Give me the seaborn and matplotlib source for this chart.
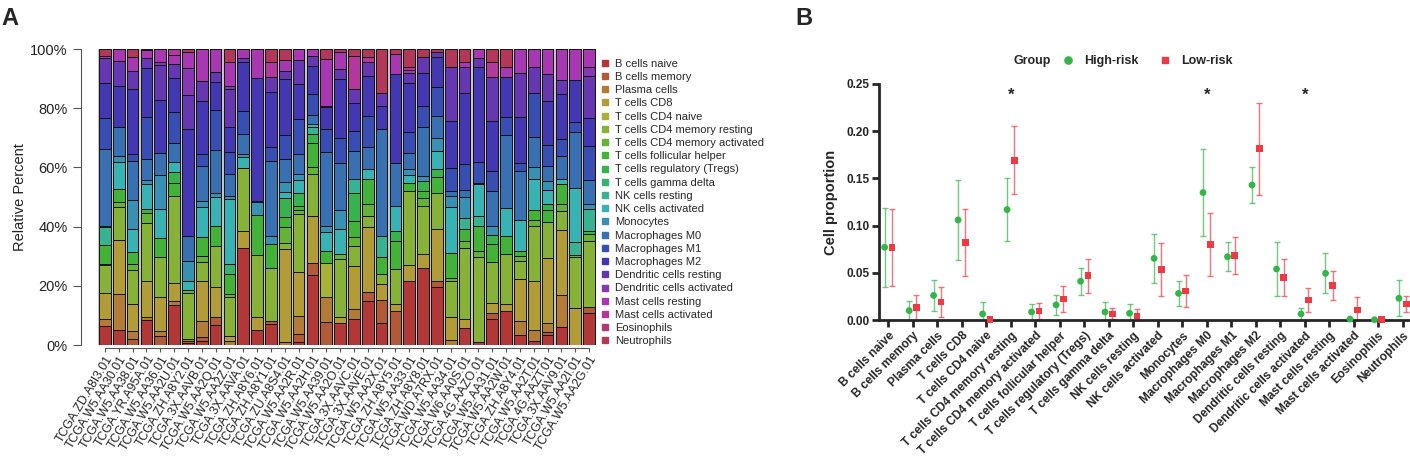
import numpy as np
import pandas as pd
import matplotlib
matplotlib.use("Agg")
import matplotlib.pyplot as plt
import seaborn as sns
from matplotlib.lines import Line2D

# ---------------- data ----------------
samples = ["TCGA.ZD.A8I3.01", "TCGA.W5.AA30.01", "TCGA.W5.AA38.01", "TCGA.YR.A95A.01",
           "TCGA.W5.AA36.01", "TCGA.W5.AA2U.01", "TCGA.ZH.A8Y2.01", "TCGA.3X.AAVB.01",
           "TCGA.W5.AA2Q.01", "TCGA.W5.AA2Z.01", "TCGA.3X.AAVA.01", "TCGA.ZH.A8Y6.01",
           "TCGA.ZH.A8Y1.01", "TCGA.ZU.A8S4.01", "TCGA.W5.AA2R.01", "TCGA.W5.AA2H.01",
           "TCGA.W5.AA39.01", "TCGA.W5.AA2O.01", "TCGA.3X.AAVC.01", "TCGA.3X.AAVE.01",
           "TCGA.W5.AA2X.01", "TCGA.ZH.A8Y5.01", "TCGA.W5.AA33.01", "TCGA.ZH.A8Y8.01",
           "TCGA.WD.A7RX.01", "TCGA.W5.AA34.01", "TCGA.W6.AA0S.01", "TCGA.4G.AAZO.01",
           "TCGA.W5.AA31.01", "TCGA.W5.AA2W.01", "TCGA.ZH.A8Y4.01", "TCGA.W5.AA2T.01",
           "TCGA.4G.AAZT.01", "TCGA.3X.AAV9.01", "TCGA.W5.AA2I.01", "TCGA.W5.AA2G.01"]

cell_types = ["B cells naive", "B cells memory", "Plasma cells", "T cells CD8",
              "T cells CD4 naive", "T cells CD4 memory resting",
              "T cells CD4 memory activated", "T cells follicular helper",
              "T cells regulatory (Tregs)", "T cells gamma delta", "NK cells resting",
              "NK cells activated", "Monocytes", "Macrophages M0", "Macrophages M1",
              "Macrophages M2", "Dendritic cells resting", "Dendritic cells activated",
              "Mast cells resting", "Mast cells activated", "Eosinophils", "Neutrophils"]

# percent of each cell type per sample (one row per sample, columns follow cell_types)
fractions = [
    [6.4, 0, 2.3, 8.9, 0, 9.4, 0.5, 6.5, 0, 0, 6, 0.5, 0, 26, 10.5, 12, 8.5, 0, 0.5, 0, 0, 2.5],
    [5, 0, 12.4, 18, 0, 11.2, 1.7, 4.5, 0, 0, 0, 9, 2.2, 9.5, 0, 14.1, 8.4, 0, 3.9, 0, 0, 0.1],
    [0, 2, 2.8, 9.2, 0, 11.3, 2, 4, 0, 0, 0, 7.9, 9.8, 13.2, 2.2, 22.1, 6.2, 0, 4.7, 0, 0, 2.6],
    [8.3, 0, 1, 12.3, 0, 19.5, 3.6, 1.2, 0, 0, 0, 8.5, 1.3, 7.3, 14, 16.7, 3.2, 0, 2.6, 0, 0, 0.5],
    [0, 3.2, 1.4, 11.5, 0, 13.5, 0, 6.5, 0, 0, 0, 10, 11.5, 7.4, 0, 17.8, 11.7, 1, 4.5, 0, 0, 0],
    [13.4, 0, 1.5, 6.2, 0, 29.2, 0, 4.5, 3.5, 0, 0, 3.5, 0, 6.6, 10.2, 11.5, 4.7, 0, 3.2, 2, 0, 0],
    [0.8, 0.5, 0.8, 0, 0, 15.5, 0.9, 0, 0, 0, 0, 3.1, 6.9, 8.2, 0, 36.3, 11.5, 9, 5.4, 0, 0, 1.1],
    [1.5, 1.1, 5.6, 13.3, 0, 6.4, 2.3, 6.4, 0, 0, 0, 9.9, 2.3, 11.8, 3.9, 18, 6.8, 0, 10.7, 0, 0, 0],
    [6.6, 3, 0, 10, 0, 14, 0, 6.5, 0, 0, 0, 10, 1.3, 14.5, 13.5, 9.5, 3.3, 0, 7.8, 0, 0, 0],
    [0, 0, 1.5, 1.7, 0, 12.9, 1.1, 6.8, 0, 3.4, 0, 21.9, 1.1, 7.4, 7.3, 8.4, 13, 1.1, 7.9, 0, 0, 4.5],
    [32.7, 0, 0, 5.8, 0, 21.3, 0, 0, 0, 0, 0, 3.6, 1, 7, 7.8, 16.5, 1.2, 0, 3.1, 0, 0, 0],
    [5, 0, 0, 4.5, 0, 21, 0, 13.5, 0, 0, 0, 0, 4.2, 0.5, 0, 41.5, 0, 0, 9.8, 0, 0, 0],
    [7, 1, 0, 0, 0, 18, 0, 8, 0, 0, 0, 0, 2.7, 25.3, 5, 18.6, 5.1, 0, 0, 5, 0, 4.3],
    [0, 0, 0.9, 31.5, 0, 1.9, 5.5, 3.6, 6.3, 0, 0, 1.9, 3.4, 7.8, 8.3, 18.8, 2.8, 0, 3.6, 0, 0, 3.7],
    [0.9, 2.8, 6.2, 14.6, 0, 19.8, 1.4, 1.4, 4.1, 0, 0, 4.5, 2.1, 6.7, 11.9, 11.8, 8.1, 0, 3.7, 0, 0, 0],
    [23.6, 4, 0, 16.1, 0, 14.1, 2.4, 7.9, 3.2, 0, 2.3, 1.1, 0, 3, 7.2, 9.4, 3.4, 0, 2.3, 0, 0, 0],
    [0, 7.7, 8.4, 0, 11.5, 0, 0, 4.3, 0, 0, 0, 6.2, 2.2, 24.8, 7.9, 7.3, 0.6, 0, 15.8, 0, 0, 3.3],
    [7.3, 0, 0, 2.3, 0, 19.4, 1.7, 0, 0, 0, 0, 8.4, 6.4, 16.1, 8.2, 19.9, 3.4, 0, 6, 0, 0, 0.9],
    [8.8, 0, 3.4, 14.6, 0, 6.8, 2.8, 5.6, 9.2, 0, 4.9, 0, 0, 9.6, 6.5, 9.4, 4.9, 0, 0, 11.2, 0, 2.3],
    [14.8, 3, 0, 22.2, 0, 3.7, 3.9, 8.5, 0, 0, 0, 3.4, 0, 7.5, 10.5, 13.5, 4.5, 0, 0, 1.9, 0, 2.6],
    [7.5, 7.7, 0, 5.3, 0, 3.4, 0, 6, 0, 0, 6.8, 0, 0, 36.3, 0, 7.7, 4.6, 0, 0, 0, 0, 14.7],
    [0, 11.5, 0, 2.5, 0, 11.7, 0, 9.4, 3.3, 0, 0, 8.5, 0, 14.6, 0, 30.1, 0, 0, 6.7, 0, 0, 1.7],
    [22, 0, 0, 5.2, 0, 25.5, 0, 2.6, 0, 0, 0, 2.8, 2, 5.3, 7.3, 16.7, 3.4, 0, 1.2, 1, 0, 6],
    [26, 0, 0, 4.7, 0, 16.4, 2.6, 2.4, 3.4, 0, 0, 0, 1.7, 16.6, 7.1, 10.9, 5.6, 0, 0, 0, 0, 2.6],
    [19.7, 2, 0, 17.5, 0, 12, 0, 5.7, 2.6, 0, 0, 5.9, 4.5, 7.6, 9.5, 10.2, 1.7, 0, 0, 0, 0, 1.1],
    [0, 0, 1.7, 7.9, 0, 11.9, 1.1, 8.4, 0, 0, 0, 15.5, 4, 1.6, 7.7, 15.8, 18.4, 0, 0, 0, 0, 6],
    [5.7, 0, 0, 3.1, 0, 24, 2.4, 4, 0, 0, 3.7, 0, 7, 2.5, 8.7, 23.9, 8.8, 0, 1.7, 0, 0, 4.5],
    [0.9, 0, 0, 0, 0, 28.7, 2.3, 8.4, 0, 0, 3.4, 10.7, 0, 0.2, 7.1, 32.1, 3.2, 0, 3, 0, 0, 0],
    [8.8, 1.9, 0, 3.4, 0, 13.8, 0, 6.2, 3.2, 0, 0, 0, 3, 11.8, 6.8, 16.9, 14.6, 0, 0, 5.1, 0, 4.5],
    [11.5, 0, 0, 2.3, 0, 16.9, 0, 6, 0, 0, 0, 9.6, 0, 24.8, 6, 13.3, 0, 0, 3.4, 0, 0, 6.2],
    [3.5, 0, 4.5, 14.3, 0, 6, 1.9, 1.7, 0, 0, 0, 10.3, 0, 16.7, 2.5, 15.7, 14.7, 0, 8.2, 0, 0, 0],
    [1.5, 0, 3.6, 16.4, 0, 18.8, 1.9, 3.4, 0, 0, 0, 10.5, 4, 10.1, 14.8, 0, 8.8, 0, 6.2, 0, 0, 0],
    [3.5, 1, 3, 22, 0, 12, 0, 4, 2, 0, 0, 5, 3, 5, 7, 15, 9, 0, 8.5, 0, 0, 0],
    [6.2, 0, 10.8, 21.8, 0, 6.5, 2.5, 6.5, 0, 0, 0, 1.7, 0, 7.9, 5.6, 15.2, 4.7, 0, 10.6, 0, 0, 0],
    [0, 0, 0, 12.5, 0, 17.1, 0.9, 0, 0, 0, 4.2, 18.3, 0, 18.8, 3.4, 14.3, 0, 0, 10.5, 0, 0, 0],
    [10.7, 2, 0, 0, 0, 22.3, 2.5, 0.9, 0, 0, 7.5, 0, 1.9, 7.8, 11.6, 9.4, 14.3, 3, 6.1, 0, 0, 0],
]

# panel B: mean and sd of cell proportion by risk group
high_mean = [0.077, 0.0099, 0.026, 0.106, 0.0064, 0.117, 0.0085, 0.016, 0.041, 0.0085, 0.0071,
             0.0653, 0.0282, 0.135, 0.067, 0.143, 0.054, 0.0064, 0.0494, 0.001, 0.0003, 0.023]
high_sd = [0.042, 0.0102, 0.016, 0.042, 0.013, 0.033, 0.008, 0.0106, 0.014, 0.0102, 0.0095,
           0.026, 0.0131, 0.0464, 0.0152, 0.0194, 0.0288, 0.006, 0.0212, 0.001, 0.0005, 0.019]
low_mean = [0.077, 0.013, 0.019, 0.0823, 0.0003, 0.169, 0.0095, 0.0222, 0.047, 0.0064, 0.0042,
            0.0537, 0.0307, 0.0802, 0.0681, 0.1815, 0.0448, 0.0212, 0.0364, 0.0106, 0.0003, 0.017]
low_sd = [0.041, 0.014, 0.0155, 0.0355, 0.0005, 0.036, 0.008, 0.0136, 0.018, 0.0058, 0.0075,
          0.028, 0.0173, 0.0333, 0.0196, 0.0487, 0.0198, 0.0132, 0.0152, 0.014, 0.0005, 0.0088]
signif_cells = ["T cells CD4 memory resting", "Macrophages M0", "Dendritic cells activated"]

# ---------------- style ----------------
sns.set_style("ticks")
plt.rcParams['font.family'] = ['Liberation Sans', 'DejaVu Sans']

cell_colors = sns.hls_palette(len(cell_types), h=0.0, l=0.46, s=0.52)
cell_pal = dict(zip(cell_types, cell_colors))
group_pal = {"High-risk": "#33b54a", "Low-risk": "#ee3a43"}

fig = plt.figure(figsize=(14.1, 4.58), dpi=100)
axA = fig.add_axes([0.0695, 0.2467, 0.3532, 0.6463])
axB = fig.add_axes([0.6234, 0.3013, 0.3766, 0.5153])

# ---------------- panel A: stacked composition ----------------
comp = pd.DataFrame(fractions, index=samples, columns=cell_types)
comp = comp.div(comp.sum(axis=1), axis=0)
long = comp.reset_index(names="sample").melt(id_vars="sample", var_name="cell", value_name="frac")
long["xpos"] = long["sample"].map({s: i for i, s in enumerate(samples)})

sns.histplot(data=long, x="xpos", weights="frac", hue="cell",
             hue_order=cell_types[::-1], palette=cell_pal, multiple="stack",
             discrete=True, shrink=0.84, alpha=1, edgecolor="#141414", linewidth=0.7,
             legend=False, ax=axA)

# spines first: moving a spine resets the ticks
for side in ["top", "right"]:
    axA.spines[side].set_visible(False)
axA.spines["left"].set_position(("outward", 12))
axA.spines["bottom"].set_position(("outward", 2))

axA.set_facecolor("#c4c4c4")
axA.set_xlim(-0.5, len(samples) - 0.5)
axA.set_ylim(0, 1)
axA.spines["left"].set_bounds(0, 1)
axA.spines["bottom"].set_bounds(0, len(samples) - 1)
for side in ["left", "bottom"]:
    axA.spines[side].set_color("#555555")
    axA.spines[side].set_linewidth(0.8)
axA.set_yticks(np.arange(0, 1.01, 0.2))
axA.set_yticklabels([f"{int(round(v * 100))}%" for v in np.arange(0, 1.01, 0.2)],
                    fontsize=10.5, color="#222222")
axA.set_xticks(range(len(samples)))
axA.set_xticklabels(samples, rotation=59, ha="right", rotation_mode="anchor",
                    fontsize=8.8, color="#222222")
axA.set_xlabel("")
axA.set_ylabel("Relative Percent", fontsize=10.5, color="#222222", labelpad=2)
axA.tick_params(axis="y", length=6, width=0.8, color="#555555", pad=4)
axA.tick_params(axis="x", length=3, width=0.8, color="#555555", pad=1)

handlesA = [Line2D([], [], marker="s", linestyle="", markersize=3.8, color=cell_pal[c])
            for c in cell_types]
fig.legend(handlesA, cell_types, loc="upper left", bbox_to_anchor=(0.4265, 0.872),
           frameon=False, fontsize=8, handlelength=0.6, handletextpad=0.6,
           labelspacing=0.29, borderaxespad=0, borderpad=0)

# ---------------- panel B: group means with sd ----------------
groups = ["High-risk", "Low-risk"]
dfB = pd.DataFrame({
    "cell": cell_types * 2,
    "Group": [groups[0]] * len(cell_types) + [groups[1]] * len(cell_types),
    "mean": high_mean + low_mean,
    "sd": high_sd + low_sd,
})
dodge = {"High-risk": -0.15, "Low-risk": 0.15}
dfB["pos"] = dfB["cell"].map({c: i for i, c in enumerate(cell_types)}) + dfB["Group"].map(dodge)
dfB["lo"] = np.minimum(dfB["sd"], dfB["mean"])

for g in groups:
    sub = dfB[dfB["Group"] == g]
    axB.errorbar(sub["pos"], sub["mean"], yerr=[sub["lo"], sub["sd"]], fmt="none",
                 ecolor=group_pal[g], elinewidth=1.0, capsize=2.4, capthick=1.0,
                 alpha=0.7, zorder=2, clip_on=False)

sns.scatterplot(data=dfB, x="pos", y="mean", hue="Group", style="Group",
                markers={"High-risk": "o", "Low-risk": "s"}, palette=group_pal,
                s=24, edgecolor="none", linewidth=0, legend=False, zorder=3,
                clip_on=False, ax=axB)

for c in signif_cells:
    axB.text(cell_types.index(c), 0.238, "*", ha="center", va="center",
             fontsize=12, fontweight="bold")

axB.set_xlim(-0.38, len(cell_types) - 0.7)
axB.set_ylim(0, 0.25)
axB.set_yticks(np.arange(0, 0.251, 0.05))
axB.set_yticklabels([f"{v:.2f}" for v in np.arange(0, 0.251, 0.05)],
                    fontsize=8.5, fontweight="bold")
axB.set_xticks(range(len(cell_types)))
axB.set_xticklabels(cell_types, rotation=45, ha="right", rotation_mode="anchor",
                    fontsize=8.6, fontweight="bold")
axB.set_xlabel("")
axB.set_ylabel("Cell proportion", fontsize=10.5, fontweight="bold", labelpad=6)
for side in ["top", "right"]:
    axB.spines[side].set_visible(False)
for side in ["left", "bottom"]:
    axB.spines[side].set_linewidth(2)
axB.tick_params(axis="both", width=2, length=5, pad=2)

handlesB = [Line2D([], [], marker="o", linestyle="", markersize=5.2, color=group_pal["High-risk"]),
            Line2D([], [], marker="s", linestyle="", markersize=5.0, color=group_pal["Low-risk"])]
fig.text(1014 / 1410, 1 - 61 / 458, "Group", fontsize=9, fontweight="bold", va="center")
fig.legend(handlesB, groups, loc="center left", bbox_to_anchor=(1062 / 1410, 1 - 61 / 458),
           ncol=2, frameon=False, prop={"weight": "bold", "size": 9},
           handlelength=1.0, handletextpad=0.8, columnspacing=1.6,
           borderaxespad=0, borderpad=0)

fig.text(0.001, 0.985, "A", fontsize=17, fontweight="bold", va="top")
fig.text(795 / 1410, 0.985, "B", fontsize=17, fontweight="bold", va="top")

fig.savefig("out.png", dpi=100)
